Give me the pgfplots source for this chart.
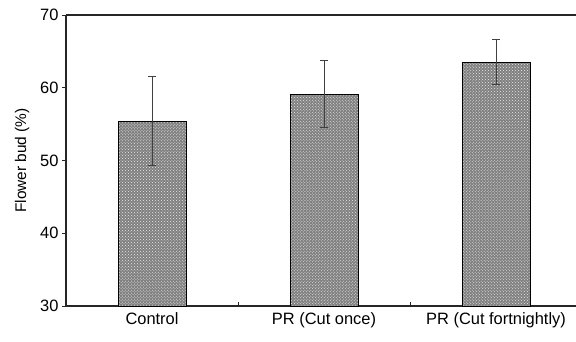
\documentclass[border=0pt]{standalone}
\usepackage{pgfplots}
\pgfplotsset{compat=1.18}
\usepackage{fontspec}
\setmainfont{Liberation Sans}
\usetikzlibrary{patterns}
\begin{document}
\begin{tikzpicture}[x=1bp,y=1bp]
\useasboundingbox (0,0) rectangle (576,341);
\begin{axis}[
  at={(66bp,35bp)}, anchor=south west,
  scale only axis, width=510bp, height=291bp,
  xmin=-0.5, xmax=2.465, ymin=30, ymax=70,
  axis y line*=left,
  axis line style={line width=1.9bp, black!85},
  ytick={30,40,50,60,70},
  ytick pos=left, xtick pos=bottom,
  y tick style={line width=0.8bp, black!85, xshift=-4bp},
  tick align=inside,
  major tick length=4bp,
  xtick={0,1,2},
  xticklabels={Control, PR (Cut once), PR (Cut fortnightly)},
  x tick style={draw=none},
  extra x ticks={0.5,1.5},
  extra x tick labels={},
  extra x tick style={x tick style={draw=black!85, line width=0.8bp}},
  /pgf/number format/assume math mode=true,
  tick label style={font=\fontsize{16.5}{19}\selectfont},
  yticklabel style={xshift=-4bp},
  ylabel={Flower bud (\%)},
  ylabel style={at={(axis description cs:-0.086,0.5)}, anchor=center, font=\fontsize{15.5}{18}\selectfont},
  xticklabel style={yshift=-3bp},
]
\addplot[ybar, bar width=68bp, fill=black!50, draw=black, line width=0.8bp,
  postaction={pattern=crosshatch dots, pattern color=white!85!gray},
  error bars/.cd, y dir=both, y explicit,
  error bar style={line width=0.9bp, black!75},
  error mark options={rotate=90, mark size=4bp, line width=0.9bp, black!75}]
coordinates {
  (0,55.4) +- (0,6.1)
  (1,59.1) +- (0,4.6)
  (2,63.5) +- (0,3.1)
};
\end{axis}
\end{tikzpicture}
\end{document}
